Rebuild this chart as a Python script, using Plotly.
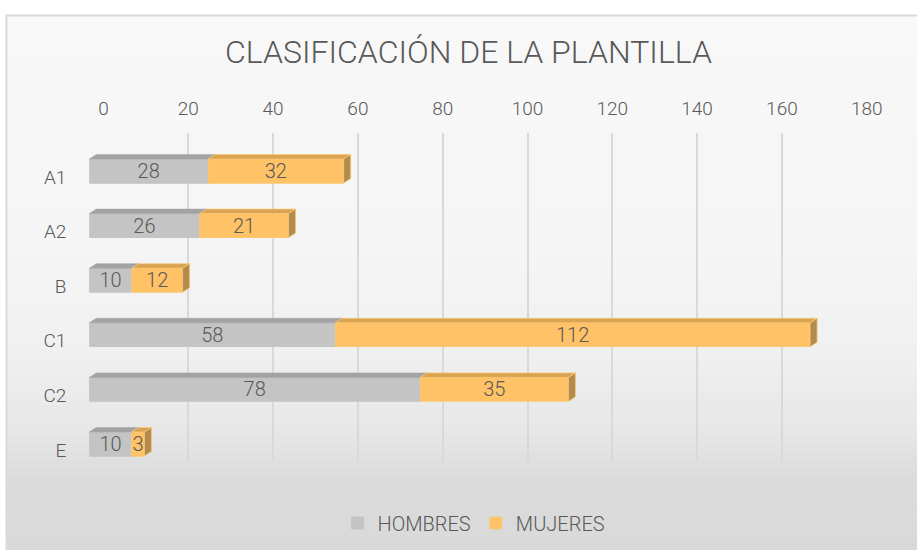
import numpy as np
import plotly.graph_objects as go

# ---- data ----
categories = ["A1", "A2", "B", "C1", "C2", "E"]
hombres = [28, 26, 10, 58, 78, 10]
mujeres = [32, 21, 12, 112, 35, 3]
series_names = ["HOMBRES", "MUJERES"]
x_ticks = [0, 20, 40, 60, 80, 100, 120, 140, 160, 180]
title_text = "CLASIFICACIÓN DE LA PLANTILLA"

W, H = 917, 550
def px(x):
    return x / W
def py(y):
    return 1 - y / H

FONT = "Roboto"
TXT = "#595959"

gray_front, gray_top = "#c4c4c4", "#a3a3a3"
gold_front, gold_top, gold_side, gold_line = "#ffc266", "#d9a352", "#b38b4d", "#f7c977"

idx = np.arange(len(categories))
bar_w = 0.44
unit_px = 4.24
dx = 7 / unit_px          # depth offset in value units
dy = 4.5 / 54.6           # depth offset in category units

fig = go.Figure()

# dummy trace for the grid subplot
fig.add_trace(go.Scatter(x=[None], y=[None], xaxis="x", yaxis="y",
                         showlegend=False, hoverinfo="skip"))

fig.add_trace(go.Bar(
    y=idx, x=hombres, name=series_names[0], orientation="h",
    xaxis="x2", yaxis="y2", width=bar_w,
    marker=dict(color=gray_front, line=dict(color=gray_front, width=0.8)),
    text=hombres, textposition="inside", insidetextanchor="middle",
    textangle=0, constraintext="none",
    textfont=dict(family=FONT, size=20, color=TXT, weight=300),
))
fig.add_trace(go.Bar(
    y=idx, x=mujeres, name=series_names[1], orientation="h",
    xaxis="x2", yaxis="y2", width=bar_w,
    marker=dict(color=gold_front, line=dict(color=gold_line, width=0.8)),
    text=mujeres, textposition="inside", insidetextanchor="middle",
    textangle=0, constraintext="none",
    textfont=dict(family=FONT, size=20, color=TXT, weight=300),
))

shapes = []
# gradient background bands
stops = [(15, 248), (250, 245), (350, 240), (430, 231), (480, 219), (560, 217)]
ys = [s[0] for s in stops]
vs = [s[1] for s in stops]
N = 70
edges = np.linspace(15, 560, N + 1)
for k in range(N):
    y0, y1 = edges[k], edges[k + 1]
    v = int(round(np.interp((y0 + y1) / 2, ys, vs)))
    shapes.append(dict(type="rect", xref="paper", yref="paper", layer="below",
                       x0=px(6), x1=px(940), y0=py(y1 + 0.5), y1=py(y0),
                       fillcolor=f"rgb({v},{v},{v})", line=dict(width=0)))
# frame
shapes.append(dict(type="rect", xref="paper", yref="paper", layer="below",
                   x0=px(6.5), x1=px(960), y0=py(580), y1=py(15.5),
                   fillcolor="rgba(0,0,0,0)", line=dict(color="#d9d9d9", width=2)))

# 3D faces
for i in idx:
    h = hombres[i]
    m = mujeres[i]
    yt = i - bar_w / 2
    yb = i + bar_w / 2
    # gray top face
    shapes.append(dict(type="path", xref="x2", yref="y2", layer="above",
                       path=f"M {0},{yt} L {h},{yt} L {h+dx},{yt-dy} L {dx},{yt-dy} Z",
                       fillcolor=gray_top, line=dict(color=gray_top, width=0.5)))
    # gold top face
    a, b = h, h + m
    shapes.append(dict(type="path", xref="x2", yref="y2", layer="above",
                       path=f"M {a},{yt} L {b},{yt} L {b+dx},{yt-dy} L {a+dx},{yt-dy} Z",
                       fillcolor=gold_top, line=dict(color=gold_line, width=0.8)))
    # gold side face
    shapes.append(dict(type="path", xref="x2", yref="y2", layer="above",
                       path=f"M {b},{yt} L {b+dx},{yt-dy} L {b+dx},{yb-dy} L {b},{yb} Z",
                       fillcolor=gold_side, line=dict(color=gold_line, width=0.8)))

fig.update_layout(
    width=W, height=H,
    margin=dict(l=0, r=0, t=0, b=0, pad=0, autoexpand=False),
    paper_bgcolor="white",
    plot_bgcolor="rgba(0,0,0,0)",
    barmode="stack",
    bargap=0.56,
    shapes=shapes,
    title=dict(text=title_text, x=px(468.5), xanchor="center",
               y=py(52), yanchor="middle", xref="paper", yref="paper",
               automargin=False,
               font=dict(family=FONT, size=32, color=TXT, weight=300)),
    xaxis=dict(domain=[px(103.5), px(103.5 + 180 * unit_px)], range=[0, 180],
               side="top", anchor="y", tickvals=x_ticks, automargin=False,
               showgrid=True, gridcolor="#d9d9d9", gridwidth=1.5,
               zeroline=False, showline=False, ticks="",
               ticklabelstandoff=13,
               tickfont=dict(family=FONT, size=19, color=TXT, weight=300),
               fixedrange=True),
    yaxis=dict(domain=[py(462), py(133)], range=[0, 1], anchor="x",
               automargin=False,
               showgrid=False, zeroline=False, showticklabels=False,
               showline=False, fixedrange=True),
    xaxis2=dict(domain=[px(89.3), px(89.3 + 180 * unit_px)], range=[0, 180],
                anchor="y2", visible=False, fixedrange=True, automargin=False),
    yaxis2=dict(domain=[py(171 + 5.5 * 54.6), py(171 - 0.5 * 54.6)],
                range=[5.5, -0.5], anchor="x2", automargin=False,
                tickvals=idx, ticktext=categories,
                showgrid=False, zeroline=False, showline=False, ticks="",
                ticklabelstandoff=22, ticklabelshift=-6,
                tickfont=dict(family=FONT, size=19, color=TXT, weight=300),
                fixedrange=True),
    legend=dict(orientation="h", x=px(474), xanchor="center",
                y=py(523), yanchor="middle", bgcolor="rgba(0,0,0,0)",
                font=dict(family=FONT, size=20, color=TXT, weight=300),
                itemwidth=30, traceorder="normal"),
    showlegend=True,
)

fig.write_html(
    "out.html",
    config={"displayModeBar": False},
    post_script="document.body.style.margin='0';document.body.style.overflow='hidden';",
)
